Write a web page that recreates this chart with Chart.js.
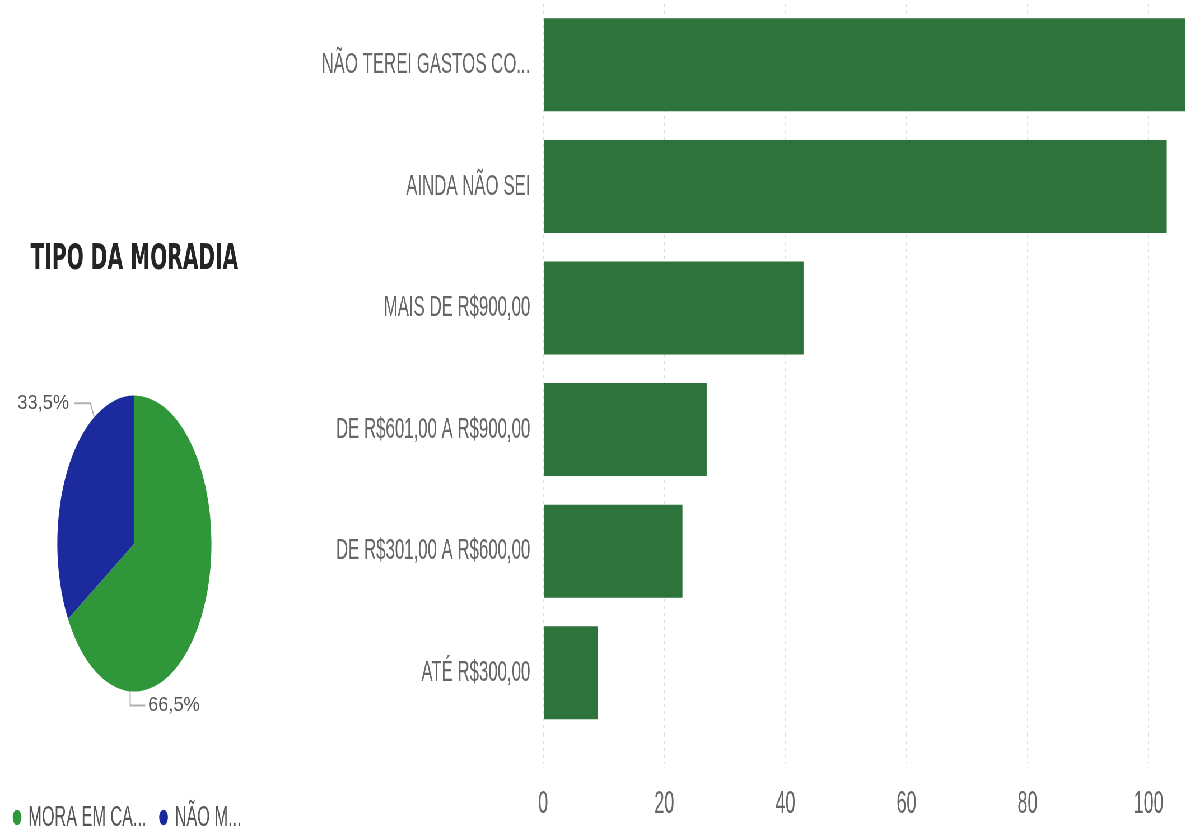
<!DOCTYPE html>
<html><head><meta charset="utf-8">
<script src="https://cdn.jsdelivr.net/npm/chart.js@4.4.1/dist/chart.umd.min.js"></script>
<style>
html,body{margin:0;padding:0;background:#fff;overflow:hidden;width:1185px;height:833px;}
#stage{position:absolute;left:0;top:0;width:2116px;height:833px;transform:scaleX(0.56);transform-origin:0 0;}
#pieBox{position:absolute;left:0;top:0;width:480px;height:833px;}
#barBox{position:absolute;left:500px;top:0;width:1616px;height:833px;}
</style></head>
<body>
<div id="stage">
  <div id="pieBox"><canvas id="pie"></canvas></div>
  <div id="barBox"><canvas id="bar"></canvas></div>
</div>
<script>
// ---- data ----
const pieTitle = 'TIPO DA MORADIA';
const pieLabels = ['MORA EM CA...', 'NÃO M...'];
const pieValues = [66.5, 33.5];
const pieColors = ['#2f963a', '#1b2a9c'];

const barCategories = ['NÃO TEREI GASTOS CO...', 'AINDA NÃO SEI', 'MAIS DE R$900,00',
  'DE R$601,00 A R$900,00', 'DE R$301,00 A R$600,00', 'ATÉ R$300,00'];
const barValues = [108, 103, 43, 27, 23, 9];
const xTickValues = [0, 20, 40, 60, 80, 100];

// ---- styles ----
const ELLIPSE = 0.93;           // extra horizontal flattening of the pie
const LABEL_AT = [0.765, 0.74]; // where along each slice its leader line starts
const TEXT_STRETCH = 1.55;      // pie label glyph stretch
const GRAY = '#666666';

const pieShape = {
  id: 'pieShape',
  beforeDatasetsDraw(chart) {
    const a = chart.getDatasetMeta(0).data[0];
    const ctx = chart.ctx;
    ctx.save();
    ctx.translate(a.x, 0); ctx.scale(ELLIPSE, 1); ctx.translate(-a.x, 0);
  },
  afterDatasetsDraw(chart) {
    const ctx = chart.ctx;
    ctx.restore();
    const meta = chart.getDatasetMeta(0);
    const total = pieValues.reduce((s, v) => s + v, 0);
    meta.data.forEach((arc, i) => {
      const ang = arc.startAngle + LABEL_AT[i] * (arc.endAngle - arc.startAngle);
      const r = arc.outerRadius;
      const ax = arc.x + ELLIPSE * r * Math.cos(ang);
      const ay = arc.y + r * Math.sin(ang);
      const below = Math.sin(ang) > 0;
      let ex, ey, lx, tx, align;
      if (below) { ex = ax; ey = ay + 14; lx = ex + 27; tx = lx + 5; align = 'left'; }
      else { ex = ax - 7; ey = ay - 14; lx = ex - 29; tx = lx - 9; align = 'right'; }
      ctx.save();
      ctx.strokeStyle = '#b0b0b0'; ctx.lineWidth = 2;
      ctx.beginPath(); ctx.moveTo(ax, ay); ctx.lineTo(ex, ey); ctx.lineTo(lx, ey); ctx.stroke();
      const txt = (pieValues[i] / total * 100).toFixed(1).replace('.', ',') + '%';
      ctx.translate(tx, ey); ctx.scale(TEXT_STRETCH, 1);
      ctx.font = '21px "Liberation Sans", Arial, sans-serif';
      ctx.fillStyle = '#555555'; ctx.textAlign = align; ctx.textBaseline = 'middle';
      ctx.fillText(txt, 0, 0);
      ctx.restore();
    });
  }
};

new Chart(document.getElementById('pie'), {
  type: 'pie',
  data: { labels: pieLabels, datasets: [{ data: pieValues, backgroundColor: pieColors, borderWidth: 0, radius: 148 }] },
  options: {
    responsive: true, maintainAspectRatio: false, animation: false,
    layout: { padding: { left: 0, right: 0, top: 0, bottom: -9 } },
    plugins: {
      tooltip: { enabled: false },
      title: { display: true, text: pieTitle, color: '#252423',
        font: { family: '"DejaVu Sans", sans-serif', weight: 'bold', size: 36 },
        padding: { top: 238, bottom: 28 } },
      legend: { position: 'bottom', align: 'start',
        labels: { usePointStyle: true, pointStyle: 'circle', boxWidth: 11, boxHeight: 11, padding: 25,
          color: '#555555', font: { family: '"Liberation Sans", Arial, sans-serif', size: 29 } } }
    }
  },
  plugins: [pieShape]
});

new Chart(document.getElementById('bar'), {
  type: 'bar',
  data: { labels: barCategories,
    datasets: [{ data: barValues, backgroundColor: '#2d733b', borderWidth: 0, barPercentage: 1, categoryPercentage: 0.765 }] },
  options: {
    indexAxis: 'y', responsive: true, maintainAspectRatio: false, animation: false,
    layout: { padding: { top: 4, right: 0, bottom: -11, left: 0 } },
    plugins: { legend: { display: false }, tooltip: { enabled: false } },
    scales: {
      x: {
        min: 0, max: 106,
        border: { display: false, dash: [3, 4] },
        grid: { color: 'rgba(0,0,0,0.14)', lineWidth: 2, tickLength: 30, tickBorderDash: [3, 4], tickColor: 'rgba(0,0,0,0.14)' },
        afterBuildTicks: s => { s.ticks = xTickValues.map(v => ({ value: v })); },
        ticks: { color: GRAY, padding: 21, font: { family: '"Liberation Sans", Arial, sans-serif', size: 32 } }
      },
      y: {
        border: { display: false },
        grid: { display: false, drawTicks: false },
        afterFit: s => { s.width = 470; s.paddingTop = 0; s.paddingBottom = 0; },
        ticks: { color: GRAY, padding: 23, font: { family: '"Liberation Sans", Arial, sans-serif', size: 30 } }
      }
    }
  }
});
</script>
</body></html>
